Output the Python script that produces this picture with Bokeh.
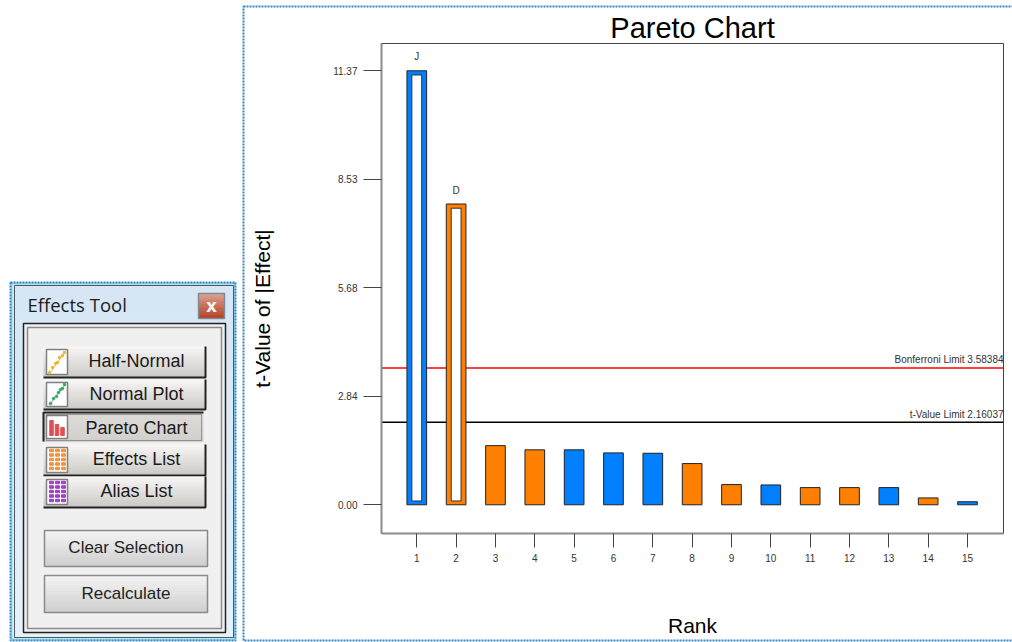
import math
from bokeh.plotting import figure
from bokeh.models import FixedTicker, Span, Range1d, ColumnDataSource, NumeralTickFormatter
from bokeh.core.properties import value
from bokeh.embed import file_html
from bokeh.resources import INLINE

# ---------- chart data ----------
ranks = [1, 2, 3, 4, 5, 6, 7, 8, 9, 10, 11, 12, 13, 14, 15]
t_values = [11.37, 7.88, 1.55, 1.44, 1.44, 1.36, 1.35, 1.08, 0.53, 0.52, 0.45, 0.45, 0.45, 0.18, 0.08]
signs = ["b", "o", "o", "o", "b", "b", "b", "o", "o", "b", "o", "o", "b", "o", "b"]
selected_ranks = [1, 2]
selected_values = [11.37, 7.88]
selected_labels = ["J", "D"]
y_ticks = [0.00, 2.84, 5.68, 8.53, 11.37]
bonferroni = 3.58384
t_limit = 2.16037
limit_values = [bonferroni, t_limit]
limit_labels = ["Bonferroni Limit 3.58384", "t-Value Limit 2.16037"]

BLUE, ORANGE = "#0080ff", "#ff8000"
FONT = "Liberation Sans"
UI = "Liberation Sans"

# ---------- chart ----------
x_lo, x_hi = 0.103, 15.915
p = figure(width=772, height=642, x_range=Range1d(x_lo, x_hi), y_range=Range1d(-0.752, 12.085),
           output_backend="svg", toolbar_location=None, min_border_left=141, min_border_right=9,
           min_border_top=43, min_border_bottom=109, title="Pareto Chart",
           x_axis_label="Rank",
           styles={"position": "absolute", "left": "240px", "top": "0px"})
p.background_fill_color = None
p.border_fill_color = None
p.grid.visible = False
p.title.align = "center"
p.title.text_font = FONT
p.title.text_font_size = "29px"
p.title.text_font_style = "normal"
p.title.text_color = "#000000"
p.title.standoff = 0
p.outline_line_color = "#444444"
p.outline_line_width = 1

for ax, ticks in ((p.xaxis[0], ranks), (p.yaxis[0], y_ticks)):
    ax.ticker = FixedTicker(ticks=ticks)
    ax.minor_tick_line_color = None
    ax.major_tick_in = 0
    ax.major_tick_line_color = "#444444"
    ax.major_tick_line_width = 1
    ax.axis_line_color = "#8c8c8c"
    ax.axis_line_width = 2
    ax.major_label_text_font = FONT
    ax.major_label_text_font_size = "10px"
    ax.major_label_text_color = "#333333"
    ax.axis_label_text_font = FONT
    ax.axis_label_text_font_style = "normal"
    ax.axis_label_text_color = "#000000"
    ax.axis_label_text_font_size = "21px"
p.yaxis[0].major_tick_out = 18
p.yaxis[0].major_label_standoff = 6
p.yaxis[0].formatter = NumeralTickFormatter(format="0.00")
p.xaxis[0].major_tick_out = 14
p.xaxis[0].major_label_standoff = 6
p.xaxis[0].axis_label_standoff = 49

for v, c in zip(limit_values, ("#ff0000", "#000000")):
    p.add_layout(Span(location=v, dimension="width", line_color=c, line_width=1.5, level="underlay"))

src = ColumnDataSource(dict(x=ranks, top=t_values, color=[BLUE if s == "b" else ORANGE for s in signs]))
p.vbar(x="x", top="top", bottom=0, width=0.5, source=src, fill_color="color", line_color="#222222", line_width=1)
p.vbar(x=selected_ranks, top=[v - 0.11 for v in selected_values], bottom=0.1, width=0.25,
       fill_color="#ffffff", line_color="#333333", line_width=1)
p.text(x=selected_ranks, y=selected_values, text=selected_labels, text_font=value(FONT), text_font_size="10px",
       text_color="#333333", text_align="center", text_baseline="middle", y_offset=-14)
p.text(x=[x_hi, x_hi], y=limit_values, text=limit_labels, text_font=value(FONT), text_font_size="10px",
       text_color="#333333", text_align="right", text_baseline="middle", y_offset=-8)

# ---------- page backdrop and dialog panel (drawn in page pixels) ----------
q = figure(width=1012, height=642, x_range=Range1d(0, 1012), y_range=Range1d(642, 0), x_axis_type=None,
           y_axis_type=None, output_backend="svg", toolbar_location=None, min_border=0,
           styles={"position": "absolute", "left": "0px", "top": "0px"})
q.outline_line_color = None
q.grid.visible = False


def hexrgb(c):
    return [int(c[i:i + 2], 16) for i in (1, 3, 5)]


def grad(l, r, t, b, c1, c2, n=12):
    a, z = hexrgb(c1), hexrgb(c2)
    h = (b - t) / n
    cols = ["#%02x%02x%02x" % tuple(round(a[k] + (z[k] - a[k]) * i / (n - 1)) for k in range(3)) for i in range(n)]
    q.quad(left=[l] * n, right=[r] * n, top=[t + i * h for i in range(n)], bottom=[t + (i + 1) * h + 0.5 for i in range(n)],
           fill_color=cols, line_color=None)


def box(l, r, t, b, line, width=1, fill=None, dash="solid"):
    q.quad(left=[l], right=[r], top=[t], bottom=[b], fill_color=fill, fill_alpha=1 if fill else 0,
           line_color=line, line_width=width, line_dash=dash)


def label(x, y, s, size="17px", color="#1a1a1a", font=UI, align="center", style="normal", angle=0.0):
    q.text(x=[x], y=[y], text=[s], text_font=value(font), text_font_size=size, text_color=color,
           text_align=align, text_baseline="middle", text_font_style=style, angle=angle)


box(243, 1030, 6, 640, "#3a86c4", 2, dash="2 1")
label(262, 308, "t-Value of |Effect|", "21px", "#000000", FONT, angle=math.pi / 2)

grad(11, 234, 283, 639, "#d6e6f5", "#e6f1fa")
box(11, 234, 283, 639, "#8fdcf2", 2)
box(14, 233, 285, 637, "#555555", 1)
box(10, 235, 282, 640, "#3a86c4", 2, dash="2 1")
label(27, 304, "Effects Tool", "18.5px", "#1c1c1c", "Open Sans", "left")
grad(198, 224, 293, 318, "#d9a08f", "#b5401f")
box(198, 224, 293, 318, "#7f8c96", 1.5)
label(211, 305, "x", "17px", "#f2f2f2", "DejaVu Sans", style="bold")

box(23, 225, 323, 632, "#222222", 1.5, "#f0f0f0")
box(27, 221, 327, 628, "#8a8a8a", 1.5)

buttons = [("Half-Normal", 346, 377, "yellow", 360), ("Normal Plot", 379, 409, "green", 393),
           ("Pareto Chart", 412, 441, "pareto", 427), ("Effects List", 444, 475, "orange", 458),
           ("Alias List", 476, 507, "purple", 490)]
for name, t, b, icon, ty in buttons:
    pressed = icon == "pareto"
    if pressed:
        grad(43, 203, t, b, "#dddbd8", "#d2d0cd")
        q.line([43, 43, 203], [b, t, t], line_color="#222222", line_width=2)
        box(46, 201, t + 2, b - 1, "#555555", 1, dash="1 1")
    else:
        grad(43, 205, t, b, "#f6f5f3", "#cdcac6")
        q.line([43, 205, 205], [b, b, t], line_color="#222222", line_width=2)
    box(46, 67, t + 3, b - 3, "#7f7f7f", 1.5, "#ffffff")
    label(136, ty, name, "18px")

# button icons
q.line([49, 65], [373, 351], line_color="#e8c040", line_width=1)
q.scatter([49, 52, 55, 57, 59, 62, 64], [372, 367, 363, 362, 357, 355, 352], size=2.5, color="#e8b830")
q.line([49, 65], [404, 384], line_color="#60c080", line_width=1)
q.scatter([50, 53, 56, 58, 60, 62, 64], [403, 398, 396, 392, 389, 388, 384], size=2.5, color="#30a860")
q.vbar(x=[51, 56.5, 62], top=[420, 424, 427], bottom=435, width=3.5, color="#e05050")
for x in (51, 57, 63):
    q.rect(x=[x] * 5, y=[450, 454.5, 459, 463.5, 468], width=4, height=2.5, color="#f0943c")
    q.rect(x=[x] * 5, y=[482, 486.5, 491, 495.5, 500], width=4, height=2.5, color="#a040c8")

for name, t, b in (("Clear Selection", 530, 566), ("Recalculate", 575, 612)):
    grad(44, 207, t, b, "#f2f2f2", "#d0d0d0")
    box(44, 207, t, b, "#8a8a8a", 1.5)
    label(125.5, (t + b) / 2 - 1, name, color="#222222")

open("out.html", "w").write(file_html([q, p], INLINE))
